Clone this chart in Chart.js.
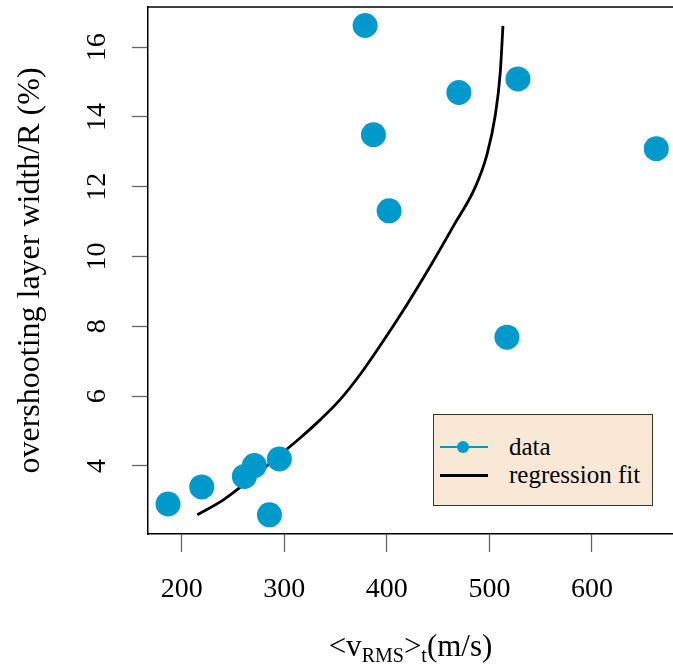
<!DOCTYPE html>
<html>
<head>
<meta charset="utf-8">
<script src="https://cdn.jsdelivr.net/npm/chart.js@4.4.1/dist/chart.umd.min.js"></script>
<style>
  html, body { margin: 0; padding: 0; background: #ffffff; }
  #wrap { position: relative; width: 673px; height: 666px; overflow: hidden; }
  #c { position: absolute; left: 0; top: 0; }
  .serif { font-family: "Liberation Serif", "DejaVu Serif", serif; color: #000; }
  #xtitle { position: absolute; left: 148px; width: 525px; top: 629px; text-align: center; font-size: 31px; line-height: 34px; white-space: nowrap; }
  #xtitle sub { font-size: 20px; vertical-align: -6px; line-height: 0; }
  #legend { position: absolute; left: 433px; top: 414px; width: 218px; height: 90px; background: #FAE8D6; border: 1px solid #333; }
  .lrow { position: absolute; left: 0; height: 28px; width: 218px; font-size: 25px; line-height: 28px; }
  .lline { position: absolute; left: 6px; width: 48px; top: 13px; height: 2px; }
  .ldot { position: absolute; left: 23px; top: 8px; width: 12px; height: 12px; border-radius: 50%; background: #0099CC; }
  .ltext { position: absolute; left: 75px; top: 0; }
</style>
</head>
<body>
<div id="wrap">
  <canvas id="c" width="673" height="666"></canvas>
  <div id="xtitle" class="serif">&lt;v<sub>RMS</sub>&gt;<sub>t</sub>(m/s)</div>
  <div id="legend" class="serif">
    <div class="lrow" style="top:18px;"><div class="lline" style="background:#0099CC;"></div><div class="ldot"></div><span class="ltext">data</span></div>
    <div class="lrow" style="top:46px;"><div class="lline" style="background:#000;height:2.5px;"></div><span class="ltext">regression fit</span></div>
  </div>
</div>
<script>
// ---- data ----
const vrms = [186.6, 219.5, 261.1, 270.8, 285.5, 295.2, 378.8, 386.9, 402.2, 470.2, 517.1, 527.8, 662.7];
const width = [2.91, 3.40, 3.70, 4.01, 2.60, 4.20, 16.62, 13.49, 11.31, 14.70, 7.69, 15.09, 13.09];
const fitX = [215.2, 240.6, 266.6, 295.9, 315.4, 334.9, 354.4, 373.9, 393.5, 419.5, 443.9, 465.0, 486.1, 497.6, 505.7, 510.5, 513.2];
const fitY = [2.60, 3.03, 3.61, 4.32, 4.80, 5.32, 5.90, 6.62, 7.45, 8.62, 9.80, 10.88, 11.98, 12.92, 14.05, 15.25, 16.61];
const xTicks = [200, 300, 400, 500, 600];
const yTicks = [4, 6, 8, 10, 12, 14, 16];
const dataLabel = 'data';
const fitLabel = 'regression fit';
const yTitle = 'overshooting layer width/R (%)';

const serif = '"Liberation Serif", "DejaVu Serif", serif';

const topFrame = {
  id: 'topFrame',
  afterDraw(chart) {
    const {ctx, chartArea} = chart;
    ctx.save();
    ctx.strokeStyle = '#000';
    ctx.lineWidth = 1.5;
    ctx.beginPath();
    ctx.moveTo(chartArea.left, chartArea.top);
    ctx.lineTo(chartArea.right + 2, chartArea.top);
    ctx.stroke();
    ctx.restore();
  }
};

function noPad(ax) {
  ax.paddingLeft = 0; ax.paddingRight = 0; ax.paddingTop = 0; ax.paddingBottom = 0;
}

new Chart(document.getElementById('c'), {
  type: 'scatter',
  data: {
    datasets: [
      {
        label: fitLabel,
        data: fitX.map((x, i) => ({x, y: fitY[i]})),
        showLine: true,
        borderColor: '#000',
        borderWidth: 2.8,
        pointRadius: 0,
        cubicInterpolationMode: 'monotone',
        fill: false,
        order: 1
      },
      {
        label: dataLabel,
        data: vrms.map((x, i) => ({x, y: width[i]})),
        backgroundColor: '#0099CC',
        borderWidth: 0,
        pointRadius: 12.5,
        pointHoverRadius: 12.5,
        order: 0
      }
    ]
  },
  options: {
    responsive: false,
    animation: false,
    devicePixelRatio: 1,
    layout: { autoPadding: false, padding: { top: 7, right: 0, left: 0, bottom: 0 } },
    plugins: { legend: { display: false }, tooltip: { enabled: false } },
    scales: {
      x: {
        type: 'linear',
        min: 167.1,
        max: 679,
        afterBuildTicks: (ax) => { ax.ticks = xTicks.map(v => ({value: v})); },
        afterFit: (ax) => { ax.height = 132; noPad(ax); },
        grid: { drawOnChartArea: false, drawTicks: true, tickLength: 18, tickColor: '#666', tickWidth: 1.3 },
        border: { display: true, color: '#000', width: 1.5 },
        ticks: { font: { family: serif, size: 28 }, color: '#000', padding: 21, maxRotation: 0, autoSkip: false }
      },
      y: {
        type: 'linear',
        min: 2.05,
        max: 17.15,
        afterBuildTicks: (ax) => { ax.ticks = yTicks.map(v => ({value: v})); },
        afterFit: (ax) => { ax.width = 148; noPad(ax); },
        grid: { drawOnChartArea: false, drawTicks: true, tickLength: 16, tickColor: '#666', tickWidth: 1.3 },
        border: { display: true, color: '#000', width: 1.5 },
        ticks: { font: { family: serif, size: 28 }, color: '#000', padding: 20, minRotation: 90, maxRotation: 90, crossAlign: 'center', autoSkip: false },
        title: { display: true, text: yTitle, font: { family: serif, size: 32 }, color: '#000', padding: { top: 11, bottom: 0 } }
      }
    }
  },
  plugins: [topFrame]
});
</script>
</body>
</html>
